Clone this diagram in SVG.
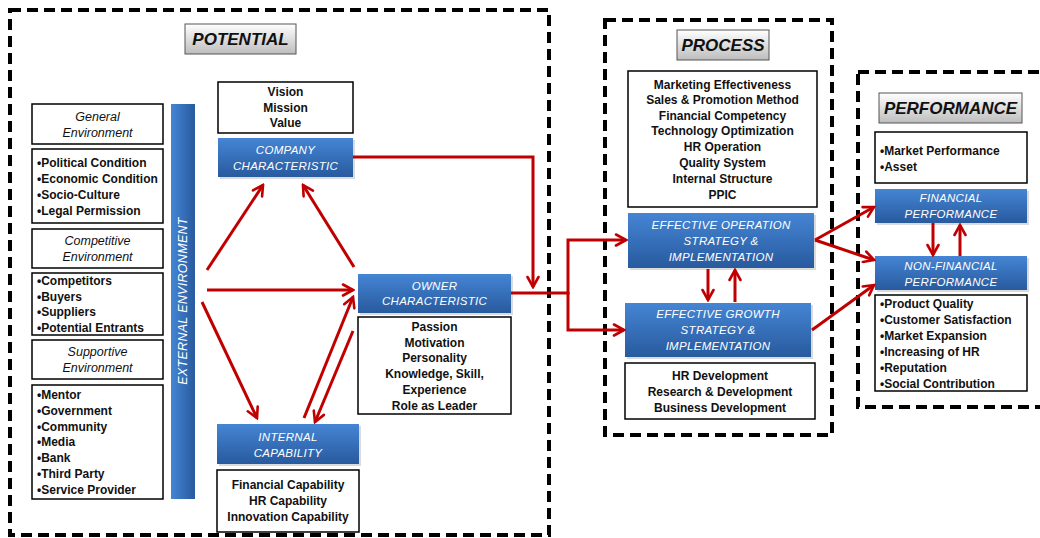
<svg xmlns="http://www.w3.org/2000/svg" width="1040" height="538" viewBox="0 0 1040 538">
<defs>
<linearGradient id="blue" x1="0" y1="0" x2="0" y2="1">
<stop offset="0" stop-color="#4585d4"/>
<stop offset="1" stop-color="#285a9e"/>
</linearGradient>
<linearGradient id="blueV" x1="0" y1="0" x2="1" y2="0">
<stop offset="0" stop-color="#4585d4"/>
<stop offset="1" stop-color="#285a9e"/>
</linearGradient>
<linearGradient id="gray" x1="0" y1="0" x2="0" y2="1">
<stop offset="0" stop-color="#ffffff"/>
<stop offset="1" stop-color="#bdbdbd"/>
</linearGradient>
<marker id="ah" viewBox="0 0 14 14" refX="12" refY="7" markerWidth="14" markerHeight="14" markerUnits="userSpaceOnUse" orient="auto">
<path d="M2,1.5 L12,7 L2,12.5" fill="none" stroke="#c00000" stroke-width="2.6" stroke-linecap="round" stroke-linejoin="miter"/>
</marker>
<style>
.frame{fill:none;stroke:#000;stroke-width:4;stroke-dasharray:11 6}
.box{fill:#fff;stroke:#000;stroke-width:1.5}
.blue{fill:url(#blue);stroke:none}
.shadow{fill:#999;opacity:0.35}
.lbl{fill:url(#gray);stroke:#555;stroke-width:1}
.t{font-family:"Liberation Sans",Arial,sans-serif;font-size:12px;font-weight:bold;fill:#111}
.tc{text-anchor:middle}
.it{font-family:"Liberation Sans",Arial,sans-serif;font-size:12.5px;font-style:italic;fill:#111;text-anchor:middle}
.w{font-family:"Liberation Sans",Arial,sans-serif;font-size:11.5px;font-style:italic;fill:#fff;text-anchor:middle;letter-spacing:0.3px}
.head{font-family:"Liberation Sans",Arial,sans-serif;font-size:17px;font-weight:bold;font-style:italic;fill:#111;text-anchor:middle}
.c{fill:none;stroke:#c00000;stroke-width:3}
</style>
</defs>
<rect width="1040" height="538" fill="#fff"/>

<g id="frames">
<rect class="frame" x="10" y="10" width="539" height="525"/>
<rect class="frame" x="605" y="20" width="227" height="415"/>
<rect class="frame" x="858" y="72" width="190" height="335"/>
</g>

<g id="potential-label">
<rect class="lbl" x="185" y="24" width="111" height="30"/>
<text class="head" x="240.5" y="45">POTENTIAL</text>
</g>

<g id="general-env">
<rect class="box" x="32" y="104" width="131" height="40"/>
<text class="it" x="97.5" y="121">General</text>
<text class="it" x="97.5" y="137">Environment</text>
</g>
<g id="general-list">
<rect class="box" x="32" y="149" width="131" height="74"/>
<text class="t" x="37" y="167">•Political Condition</text>
<text class="t" x="37" y="183">•Economic Condition</text>
<text class="t" x="37" y="199">•Socio-Culture</text>
<text class="t" x="37" y="215">•Legal Permission</text>
</g>
<g id="competitive-env">
<rect class="box" x="32" y="229" width="131" height="39"/>
<text class="it" x="97.5" y="245">Competitive</text>
<text class="it" x="97.5" y="261">Environment</text>
</g>
<g id="competitive-list">
<rect class="box" x="32" y="273" width="131" height="62"/>
<text class="t" x="37" y="285">•Competitors</text>
<text class="t" x="37" y="301">•Buyers</text>
<text class="t" x="37" y="316">•Suppliers</text>
<text class="t" x="37" y="332">•Potential Entrants</text>
</g>
<g id="supportive-env">
<rect class="box" x="32" y="340" width="131" height="39"/>
<text class="it" x="97.5" y="356">Supportive</text>
<text class="it" x="97.5" y="372">Environment</text>
</g>
<g id="supportive-list">
<rect class="box" x="32" y="385" width="131" height="114"/>
<text class="t" x="37" y="399">•Mentor</text>
<text class="t" x="37" y="415">•Government</text>
<text class="t" x="37" y="431">•Community</text>
<text class="t" x="37" y="446">•Media</text>
<text class="t" x="37" y="462">•Bank</text>
<text class="t" x="37" y="478">•Third Party</text>
<text class="t" x="37" y="494">•Service Provider</text>
</g>

<g id="external-environment">
<rect x="171" y="104" width="24" height="395" fill="url(#blueV)"/>
<text class="w" transform="translate(187,301) rotate(-90)" x="0" y="0" style="font-size:12.5px">EXTERNAL ENVIRONMENT</text>
</g>

<g id="vision">
<rect class="box" x="218" y="82" width="135" height="51"/>
<text class="t tc" x="285.5" y="96">Vision</text>
<text class="t tc" x="285.5" y="112">Mission</text>
<text class="t tc" x="285.5" y="127">Value</text>
</g>
<g id="company-characteristic">
<rect class="shadow" x="220" y="140" width="135" height="39"/>
<rect class="blue" x="218" y="138" width="135" height="39"/>
<text class="w" x="285.5" y="154">COMPANY</text>
<text class="w" x="285.5" y="170">CHARACTERISTIC</text>
</g>

<g id="owner-characteristic">
<rect class="shadow" x="360" y="276" width="153" height="39"/>
<rect class="blue" x="358" y="274" width="153" height="39"/>
<text class="w" x="434.5" y="290">OWNER</text>
<text class="w" x="434.5" y="305">CHARACTERISTIC</text>
</g>
<g id="owner-list">
<rect class="box" x="358" y="317" width="153" height="97"/>
<text class="t tc" x="434.5" y="331">Passion</text>
<text class="t tc" x="434.5" y="347">Motivation</text>
<text class="t tc" x="434.5" y="362">Personality</text>
<text class="t tc" x="434.5" y="378">Knowledge, Skill,</text>
<text class="t tc" x="434.5" y="394">Experience</text>
<text class="t tc" x="434.5" y="410">Role as Leader</text>
</g>

<g id="internal-capability">
<rect class="shadow" x="219" y="426" width="142" height="40"/>
<rect class="blue" x="217" y="424" width="142" height="40"/>
<text class="w" x="288" y="441">INTERNAL</text>
<text class="w" x="288" y="457">CAPABILITY</text>
</g>
<g id="capability-list">
<rect class="box" x="217" y="470" width="142" height="62"/>
<text class="t tc" x="288" y="489">Financial Capability</text>
<text class="t tc" x="288" y="505">HR Capability</text>
<text class="t tc" x="288" y="521">Innovation Capability</text>
</g>

<g id="process-label">
<rect class="lbl" x="677" y="30" width="92" height="30"/>
<text class="head" x="723" y="51">PROCESS</text>
</g>
<g id="process-list">
<rect class="box" x="628" y="71" width="189" height="136"/>
<text class="t tc" x="722.5" y="89">Marketing Effectiveness</text>
<text class="t tc" x="722.5" y="104">Sales &amp; Promotion Method</text>
<text class="t tc" x="722.5" y="120">Financial Competency</text>
<text class="t tc" x="722.5" y="135">Technology Optimization</text>
<text class="t tc" x="722.5" y="151">HR Operation</text>
<text class="t tc" x="722.5" y="167">Quality System</text>
<text class="t tc" x="722.5" y="183">Internal Structure</text>
<text class="t tc" x="722.5" y="199">PPIC</text>
</g>
<g id="effective-operation">
<rect class="shadow" x="630" y="215" width="186" height="55"/>
<rect class="blue" x="628" y="213" width="186" height="55"/>
<text class="w" x="721" y="229">EFFECTIVE OPERATION</text>
<text class="w" x="721" y="245">STRATEGY &amp;</text>
<text class="w" x="721" y="261">IMPLEMENTATION</text>
</g>
<g id="effective-growth">
<rect class="shadow" x="627" y="305" width="186" height="54"/>
<rect class="blue" x="625" y="303" width="186" height="54"/>
<text class="w" x="718" y="318">EFFECTIVE  GROWTH</text>
<text class="w" x="718" y="334">STRATEGY &amp;</text>
<text class="w" x="718" y="350">IMPLEMENTATION</text>
</g>
<g id="growth-list">
<rect class="box" x="625" y="363" width="190" height="56"/>
<text class="t tc" x="720" y="380">HR Development</text>
<text class="t tc" x="720" y="396">Research &amp; Development</text>
<text class="t tc" x="720" y="412">Business Development</text>
</g>

<g id="performance-label">
<rect class="lbl" x="879" y="93" width="143" height="30"/>
<text class="head" x="950.5" y="114">PERFORMANCE</text>
</g>
<g id="financial-list">
<rect class="box" x="875" y="132" width="152" height="51"/>
<text class="t" x="880" y="155">•Market Performance</text>
<text class="t" x="880" y="171">•Asset</text>
</g>
<g id="financial-performance">
<rect class="shadow" x="877" y="191" width="152" height="34"/>
<rect class="blue" x="875" y="189" width="152" height="34"/>
<text class="w" x="951" y="202">FINANCIAL</text>
<text class="w" x="951" y="218">PERFORMANCE</text>
</g>
<g id="non-financial-performance">
<rect class="shadow" x="877" y="258" width="152" height="34"/>
<rect class="blue" x="875" y="256" width="152" height="34"/>
<text class="w" x="951" y="270">NON-FINANCIAL</text>
<text class="w" x="951" y="286">PERFORMANCE</text>
</g>
<g id="non-financial-list">
<rect class="box" x="875" y="295" width="152" height="96"/>
<text class="t" x="880" y="308">•Product Quality</text>
<text class="t" x="880" y="324">•Customer Satisfaction</text>
<text class="t" x="880" y="340">•Market Expansion</text>
<text class="t" x="880" y="356">•Increasing of HR</text>
<text class="t" x="880" y="372">•Reputation</text>
<text class="t" x="880" y="388">•Social Contribution</text>
</g>

<g id="connectors">
<path class="c" d="M207,270 L263,185" marker-end="url(#ah)"/>
<path class="c" d="M354,267 L303,185" marker-end="url(#ah)"/>
<path class="c" d="M207,290 L353,290" marker-end="url(#ah)"/>
<path class="c" d="M202,302 L257,418" marker-end="url(#ah)"/>
<path class="c" d="M304,418 L353,297" marker-end="url(#ah)"/>
<path class="c" d="M353,331 L315,422" marker-end="url(#ah)"/>
<path class="c" d="M353,157 H533 V287" marker-end="url(#ah)"/>
<path class="c" d="M511,293 H568 V240 H626" marker-end="url(#ah)"/>
<path class="c" d="M568,292 V330 H624" marker-end="url(#ah)"/>
<path class="c" d="M708,269 V300" marker-end="url(#ah)"/>
<path class="c" d="M735,302 V270" marker-end="url(#ah)"/>
<path class="c" d="M815,240 L874,207" marker-end="url(#ah)"/>
<path class="c" d="M815,240 L874,260" marker-end="url(#ah)"/>
<path class="c" d="M812,330 L874,285" marker-end="url(#ah)"/>
<path class="c" d="M933,223 V255" marker-end="url(#ah)"/>
<path class="c" d="M960,256 V225" marker-end="url(#ah)"/>
</g>
</svg>
